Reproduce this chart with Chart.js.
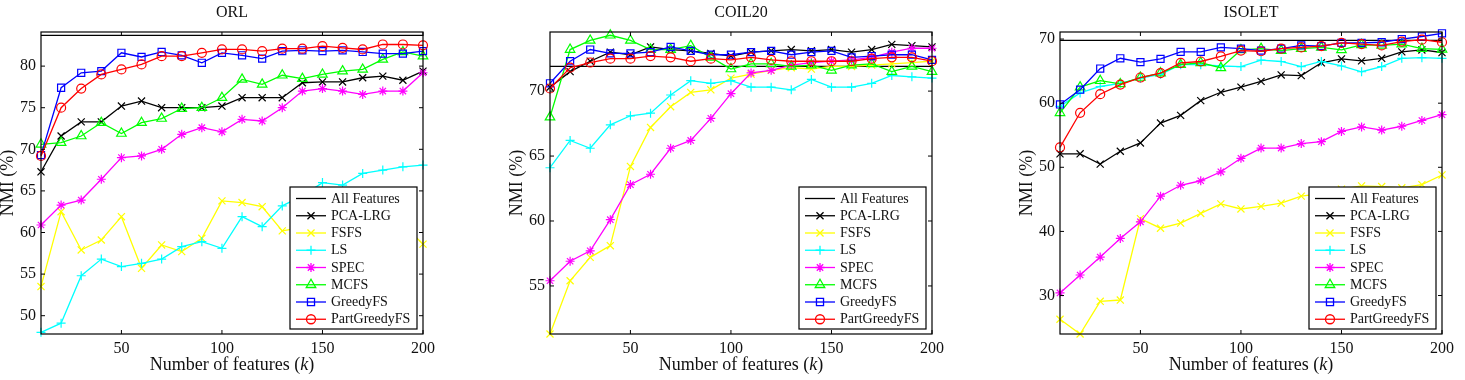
<!DOCTYPE html>
<html>
<head>
<meta charset="utf-8">
<title>NMI vs number of selected features</title>
<script src="https://cdn.jsdelivr.net/npm/chart.js@4.4.1/dist/chart.umd.min.js"></script>
<style>
  html, body { margin: 0; padding: 0; background: #ffffff; }
  #page { position: relative; width: 1465px; height: 380px; overflow: hidden; }
  .panel { position: absolute; top: 0; width: 440px; height: 380px; }
</style>
</head>
<body>
<div id="page">
  <div class="panel" style="left:0px"><canvas id="orlChart"></canvas></div>
  <div class="panel" style="left:509px"><canvas id="coilChart"></canvas></div>
  <div class="panel" style="left:1019px"><canvas id="isoletChart"></canvas></div>
</div>

<script>
// =========================================================================
// 1. Data (NMI in %)
// =========================================================================

const featureCounts = [10, 20, 30, 40, 50, 60, 70, 80, 90, 100, 110, 120, 130, 140, 150, 160, 170, 180, 190, 200];
const xTickValues = [50, 100, 150, 200];

const methodNames = ['PCA-LRG', 'FSFS', 'LS', 'SPEC', 'MCFS', 'GreedyFS', 'PartGreedyFS'];

// ORL
const orlAllFeatures = 83.7;
const orlPcaLrg = [67.3, 71.6, 73.3, 73.3, 75.2, 75.8, 75.0, 75.0, 75.0, 75.2, 76.2, 76.2, 76.2, 78.0, 78.1, 78.1, 78.6, 78.8, 78.3, 79.4];
const orlFsfs = [53.5, 62.5, 57.9, 59.1, 61.9, 55.7, 58.5, 57.7, 59.3, 63.8, 63.6, 63.1, 60.2, 60.6, 61.0, 60.4, 61.3, 60.8, 61.0, 58.6];
const orlLs = [48.0, 49.1, 54.8, 56.8, 55.9, 56.3, 56.8, 58.3, 58.9, 58.1, 61.9, 60.7, 63.2, 64.4, 66.0, 65.7, 67.1, 67.5, 67.9, 68.1];
const orlSpec = [60.9, 63.3, 63.9, 66.4, 69.0, 69.2, 70.0, 71.8, 72.6, 72.1, 73.6, 73.4, 75.0, 77.0, 77.3, 77.0, 76.6, 77.0, 77.0, 79.2];
const orlMcfs = [70.6, 70.8, 71.6, 73.2, 71.9, 73.2, 73.7, 74.9, 75.0, 76.2, 78.4, 77.8, 78.9, 78.5, 79.0, 79.4, 79.6, 80.8, 81.7, 81.2];
const orlGreedy = [69.3, 77.4, 79.2, 79.4, 81.6, 81.1, 81.7, 81.3, 80.4, 81.6, 81.3, 80.9, 81.8, 81.9, 81.8, 81.9, 81.7, 81.5, 81.5, 81.8];
const orlPartGreedy = [69.2, 75.0, 77.3, 79.0, 79.6, 80.2, 81.2, 81.2, 81.6, 82.0, 82.0, 81.8, 82.1, 82.1, 82.4, 82.2, 82.0, 82.6, 82.6, 82.5];
const orlYTicks = [50, 55, 60, 65, 70, 75, 80];

// COIL20
const coilAllFeatures = 71.9;
const coilPcaLrg = [70.3, 71.5, 72.3, 73.0, 72.8, 73.4, 73.2, 73.1, 72.9, 72.7, 73.0, 73.1, 73.2, 73.1, 73.2, 73.0, 73.2, 73.6, 73.5, 73.4];
const coilFsfs = [51.3, 55.4, 57.2, 58.1, 64.2, 67.2, 68.8, 69.9, 70.1, 71.0, 71.3, 71.6, 71.8, 71.7, 71.9, 71.9, 72.0, 72.1, 72.2, 72.3];
const coilLs = [64.1, 66.2, 65.6, 67.4, 68.1, 68.3, 69.7, 70.8, 70.6, 70.8, 70.3, 70.3, 70.1, 70.9, 70.3, 70.3, 70.6, 71.2, 71.1, 71.0];
const coilSpec = [55.4, 56.9, 57.7, 60.1, 62.8, 63.6, 65.6, 66.2, 67.9, 69.8, 71.4, 71.6, 72.0, 72.2, 72.3, 72.4, 72.6, 73.0, 73.3, 73.3];
const coilMcfs = [68.0, 73.2, 73.9, 74.3, 73.9, 73.2, 73.2, 73.5, 72.6, 71.7, 72.1, 72.1, 71.9, 72.0, 71.6, 72.0, 72.1, 71.5, 71.9, 71.5];
const coilGreedy = [70.6, 72.3, 73.2, 72.9, 72.9, 73.0, 73.4, 73.1, 72.8, 72.8, 73.0, 73.1, 72.8, 73.0, 73.1, 72.6, 72.7, 72.8, 72.8, 72.4];
const coilPartGreedy = [70.2, 71.8, 72.2, 72.5, 72.5, 72.7, 72.6, 72.3, 72.5, 72.4, 72.6, 72.4, 72.3, 72.3, 72.3, 72.3, 72.5, 72.6, 72.6, 72.3];
const coilYTicks = [55, 60, 65, 70];

// ISOLET
const isoletAllFeatures = 69.8;
const isoletPcaLrg = [52.1, 52.1, 50.5, 52.5, 53.8, 56.9, 58.1, 60.4, 61.7, 62.5, 63.4, 64.4, 64.3, 66.3, 66.9, 66.6, 67.0, 68.0, 68.3, 67.9];
const isoletFsfs = [26.3, 24.0, 29.1, 29.3, 42.0, 40.5, 41.3, 42.8, 44.3, 43.5, 43.9, 44.4, 45.5, 45.9, 46.6, 47.1, 47.0, 46.8, 47.3, 48.8];
const isoletLs = [59.5, 61.6, 62.6, 63.1, 63.9, 64.5, 66.0, 66.0, 65.8, 65.7, 66.7, 66.5, 65.7, 66.5, 65.8, 64.9, 65.7, 67.0, 67.1, 67.0];
const isoletSpec = [30.4, 33.2, 36.0, 38.9, 41.5, 45.5, 47.2, 47.9, 49.3, 51.4, 53.0, 53.0, 53.7, 54.0, 55.6, 56.3, 55.8, 56.4, 57.3, 58.2];
const isoletMcfs = [58.5, 62.5, 63.5, 63.0, 64.0, 64.7, 66.0, 66.3, 65.5, 68.3, 68.5, 68.2, 68.5, 68.7, 68.3, 69.1, 69.0, 69.2, 68.5, 68.4];
const isoletGreedy = [59.8, 62.1, 65.4, 67.0, 66.4, 66.9, 68.0, 68.0, 68.7, 68.5, 68.2, 68.5, 69.0, 68.9, 69.4, 69.4, 69.5, 70.0, 70.4, 70.9];
const isoletPartGreedy = [53.1, 58.5, 61.4, 62.9, 64.0, 64.7, 66.3, 66.5, 67.3, 68.2, 68.1, 68.5, 68.7, 68.9, 69.4, 69.2, 69.0, 69.6, 69.9, 69.5];
const isoletYTicks = [30, 40, 50, 60, 70];

// =========================================================================
// 2. Styling (MATLAB-like colours and markers)
// =========================================================================

const SERIF = '"Liberation Serif", "Times New Roman", serif';

const seriesStyle = {
  'PCA-LRG':      { color: '#000000', marker: 'crossRot', radius: 5 },
  'FSFS':         { color: '#ffff00', marker: 'crossRot', radius: 5 },
  'LS':           { color: '#00ffff', marker: 'cross',    radius: 4.5 },
  'SPEC':         { color: '#ff00ff', marker: 'star',     radius: 4.5 },
  'MCFS':         { color: '#00ff00', marker: 'triangle', radius: 5.5 },
  'GreedyFS':     { color: '#0000ff', marker: 'rect',     radius: 5 },
  'PartGreedyFS': { color: '#ff0000', marker: 'circle',   radius: 4.5 }
};

function toPoints(values) {
  return featureCounts.map((k, i) => ({ x: k, y: values[i] }));
}

/**
 * Frame with inward ticks, titles and the boxed legend drawn inside the axes
 */
const matlabAxes = {
  id: 'matlabAxes',
  afterDraw(chart, args, opts) {
    const { ctx, chartArea: a, scales } = chart;
    const xs = scales.x, ys = scales.y;
    ctx.save();

    // box
    ctx.strokeStyle = '#000';
    ctx.lineWidth = 1.2;
    ctx.strokeRect(a.left, a.top, a.right - a.left, a.bottom - a.top);

    // inward ticks
    const tl = 4;
    ctx.lineWidth = 1;
    ctx.beginPath();
    xTickValues.forEach(v => {
      const px = xs.getPixelForValue(v);
      ctx.moveTo(px, a.bottom); ctx.lineTo(px, a.bottom - tl);
      ctx.moveTo(px, a.top); ctx.lineTo(px, a.top + tl);
    });
    opts.yTicks.forEach(v => {
      const py = ys.getPixelForValue(v);
      ctx.moveTo(a.left, py); ctx.lineTo(a.left + tl, py);
      ctx.moveTo(a.right, py); ctx.lineTo(a.right - tl, py);
    });
    ctx.stroke();

    const cx = (a.left + a.right) / 2;
    ctx.fillStyle = '#111';

    // title
    ctx.font = '16px ' + SERIF;
    ctx.textAlign = 'center';
    ctx.textBaseline = 'middle';
    ctx.fillText(opts.title, cx, 13);

    // x label with italic k
    const parts = [['Number of features (', '18px ' + SERIF], ['k', 'italic 18px ' + SERIF], [')', '18px ' + SERIF]];
    let total = 0;
    parts.forEach(p => { ctx.font = p[1]; total += ctx.measureText(p[0]).width; });
    let x = cx - total / 2;
    ctx.textAlign = 'left';
    parts.forEach(p => {
      ctx.font = p[1];
      ctx.fillText(p[0], x, 365);
      x += ctx.measureText(p[0]).width;
    });

    // y label
    ctx.save();
    ctx.translate(a.left - 33, (a.top + a.bottom) / 2);
    ctx.rotate(-Math.PI / 2);
    ctx.font = '18px ' + SERIF;
    ctx.textAlign = 'center';
    ctx.fillText('NMI (%)', 0, 0);
    ctx.restore();

    // legend
    const boxW = 127, boxH = 142;
    const bx = a.right - 6 - boxW, by = a.bottom - 5 - boxH;
    ctx.fillStyle = '#fff';
    ctx.fillRect(bx, by, boxW, boxH);
    ctx.strokeStyle = '#000';
    ctx.lineWidth = 1.2;
    ctx.strokeRect(bx, by, boxW, boxH);

    const entries = [{ name: 'All Features', color: '#000000', marker: null }]
      .concat(methodNames.map(n => Object.assign({ name: n }, seriesStyle[n])));
    ctx.font = '14px ' + SERIF;
    ctx.textAlign = 'left';
    ctx.textBaseline = 'middle';
    entries.forEach((e, i) => {
      const ry = by + 11.5 + i * 17.25;
      ctx.strokeStyle = e.color;
      ctx.lineWidth = 1.3;
      ctx.beginPath();
      ctx.moveTo(bx + 6, ry); ctx.lineTo(bx + 36, ry);
      ctx.stroke();
      if (e.marker) {
        ctx.fillStyle = 'rgba(0,0,0,0)';
        Chart.helpers.drawPoint(ctx, { pointStyle: e.marker, rotation: 0, radius: e.radius, borderWidth: 1.2 }, bx + 21, ry);
      }
      ctx.fillStyle = '#111';
      ctx.fillText(e.name, bx + 41, ry + 0.5);
    });

    ctx.restore();
  }
};

// =========================================================================
// 3. Panels
// =========================================================================

function buildPanel(canvasId, cfg) {
  const datasets = [{
    label: 'All Features',
    data: [{ x: 10, y: cfg.allFeatures }, { x: 200, y: cfg.allFeatures }],
    borderColor: '#000000',
    borderWidth: 1.3,
    pointRadius: 0,
    order: 8
  }];

  methodNames.forEach((name, i) => {
    const st = seriesStyle[name];
    datasets.push({
      label: name,
      data: toPoints(cfg.series[i]),
      borderColor: st.color,
      borderWidth: 1.3,
      pointStyle: st.marker,
      pointRadius: st.radius,
      pointBorderColor: st.color,
      pointBackgroundColor: 'rgba(0,0,0,0)',
      pointBorderWidth: 1.2,
      tension: 0,
      clip: false,
      order: 7 - i
    });
  });

  return new Chart(document.getElementById(canvasId).getContext('2d'), {
    type: 'line',
    data: { datasets },
    plugins: [matlabAxes],
    options: {
      responsive: true,
      maintainAspectRatio: false,
      animation: false,
      events: [],
      layout: { padding: { top: 32, right: cfg.padRight, left: 0, bottom: 0 } },
      plugins: {
        legend: { display: false },
        tooltip: { enabled: false },
        matlabAxes: { title: cfg.title, yTicks: cfg.yTicks }
      },
      scales: {
        x: {
          type: 'linear',
          min: 10,
          max: 200,
          grid: { display: false, drawTicks: false },
          border: { display: false },
          afterBuildTicks: s => { s.ticks = xTickValues.map(v => ({ value: v })); },
          afterFit: s => { s.height = 46; },
          ticks: { color: '#111', padding: 5, maxRotation: 0, font: { family: SERIF, size: 16 } }
        },
        y: {
          type: 'linear',
          min: cfg.yMin,
          max: cfg.yMax,
          grid: { display: false, drawTicks: false },
          border: { display: false },
          afterBuildTicks: s => { s.ticks = cfg.yTicks.map(v => ({ value: v })); },
          afterFit: s => { s.width = 41; },
          ticks: { color: '#111', padding: 5, font: { family: SERIF, size: 16 } }
        }
      }
    }
  });
}

buildPanel('orlChart', {
  title: 'ORL',
  allFeatures: orlAllFeatures,
  series: [orlPcaLrg, orlFsfs, orlLs, orlSpec, orlMcfs, orlGreedy, orlPartGreedy],
  yMin: 47.8, yMax: 84.1, yTicks: orlYTicks, padRight: 11
});

buildPanel('coilChart', {
  title: 'COIL20',
  allFeatures: coilAllFeatures,
  series: [coilPcaLrg, coilFsfs, coilLs, coilSpec, coilMcfs, coilGreedy, coilPartGreedy],
  yMin: 51.3, yMax: 74.55, yTicks: coilYTicks, padRight: 11
});

buildPanel('isoletChart', {
  title: 'ISOLET',
  allFeatures: isoletAllFeatures,
  series: [isoletPcaLrg, isoletFsfs, isoletLs, isoletSpec, isoletMcfs, isoletGreedy, isoletPartGreedy],
  yMin: 24.0, yMax: 71.1, yTicks: isoletYTicks, padRight: 12
});
</script>
</body>
</html>
